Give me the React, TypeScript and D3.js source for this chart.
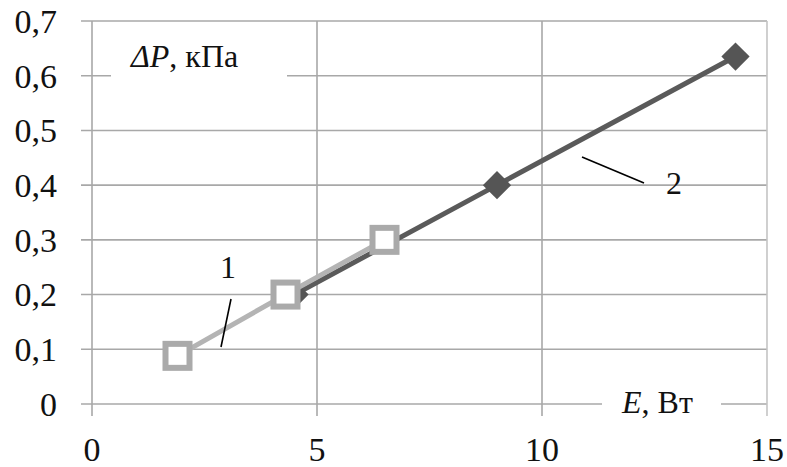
import React from "react";
import * as d3 from "d3";

const xTicks = [0, 5, 10, 15];
const yTicks = [0, 0.1, 0.2, 0.3, 0.4, 0.5, 0.6, 0.7];
const series1E = [1.9, 4.3, 6.5];
const series1P = [0.088, 0.2, 0.3];
const series2E = [4.5, 9.0, 14.3];
const series2P = [0.2, 0.4, 0.635];

const W = 787;
const H = 467;
const ts: React.CSSProperties = { fontFamily: '"Liberation Serif"' };

export default function App() {
  const x = d3.scaleLinear().domain([0, 15]).range([92, 767]);
  const y = d3.scaleLinear().domain([0, 0.7]).range([404, 21]);
  const line = d3
    .line<[number, number]>()
    .x((d) => x(d[0]))
    .y((d) => y(d[1]));
  const s1: [number, number][] = series1E.map((e, i) => [e, series1P[i]]);
  const s2: [number, number][] = series2E.map((e, i) => [e, series2P[i]]);
  const fmt = (v: number) => (v === 0 ? "0" : d3.format(".1f")(v).replace(".", ","));
  const grid = "#a8a8a8";

  return (
    <svg width={W} height={H} style={{ position: "absolute", left: 0, top: 0, background: "#fff" }}>
      <rect x={0} y={0} width={W} height={H} fill="#fff" />
      {yTicks.map((t) => (
        <line key={"h" + t} x1={81} x2={x(15)} y1={y(t)} y2={y(t)} stroke={grid} strokeWidth={1.6} />
      ))}
      {xTicks.map((t) => (
        <line key={"v" + t} x1={x(t)} x2={x(t)} y1={y(0.7)} y2={416} stroke={t === 15 ? "#c4c4c4" : grid} strokeWidth={1.6} />
      ))}
      {yTicks.map((t) => (
        <text key={"yl" + t} x={57} y={y(t)} dy="0.35em" textAnchor="end" fontSize={34} fill="#111" style={ts}>
          {fmt(t)}
        </text>
      ))}
      {xTicks.map((t) => (
        <text key={"xl" + t} x={x(t)} y={461} textAnchor="middle" fontSize={34} fill="#111" style={ts}>
          {t}
        </text>
      ))}
      <rect x={111} y={23} width={176} height={72} fill="#fff" />
      <text x={131} y={67} fontSize={32} fill="#111" style={ts}>
        <tspan fontStyle="italic">ΔP</tspan>, кПа
      </text>
      <rect x={602} y={365} width={119} height={63} fill="#fff" />
      <text x={622} y={413} fontSize={32} fill="#111" style={ts}>
        <tspan fontStyle="italic">E</tspan>, Вт
      </text>

      <path d={line(s2) || ""} fill="none" stroke="#5a5a5a" strokeWidth={5} />
      {s2.map((d, i) => (
        <rect
          key={"d" + i}
          x={-10}
          y={-10}
          width={20}
          height={20}
          fill="#555"
          transform={`translate(${x(d[0])},${y(d[1])}) rotate(45)`}
        />
      ))}
      <path d={line(s1) || ""} fill="none" stroke="#b4b4b4" strokeWidth={5} />
      {s1.map((d, i) => (
        <rect
          key={"s" + i}
          x={x(d[0]) - 12}
          y={y(d[1]) - 12}
          width={24}
          height={24}
          fill="#fff"
          stroke="#aaaaaa"
          strokeWidth={6}
        />
      ))}

      <line x1={231} y1={299} x2={221} y2={347} stroke="#000" strokeWidth={1.6} />
      <text x={228} y={278} textAnchor="middle" fontSize={32} fill="#111" style={ts}>1</text>
      <line x1={582} y1={157} x2={644} y2={183} stroke="#000" strokeWidth={1.6} />
      <text x={674} y={194} textAnchor="middle" fontSize={32} fill="#111" style={ts}>2</text>
    </svg>
  );
}
